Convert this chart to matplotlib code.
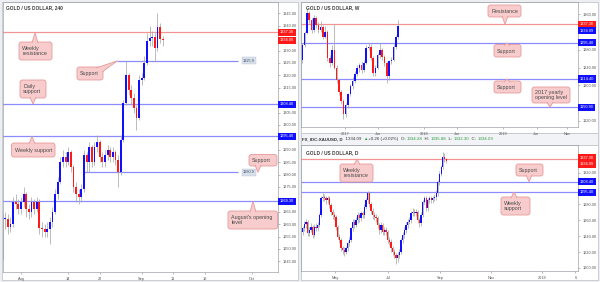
import numpy as np
import matplotlib
matplotlib.use("Agg")
import matplotlib.pyplot as plt
from matplotlib.patches import FancyBboxPatch, Polygon, Rectangle
from matplotlib.transforms import Affine2D, Bbox, blended_transform_factory

W, H = 600, 282
plt.rcParams['font.family'] = ['Liberation Sans', 'DejaVu Sans']

BLUE = '#1010ff'
RED = '#ff1a1a'
WICK = '#a9a9a9'
LINE_BLUE = '#8c8cff'
LINE_RED = '#f39494'
PINK = '#f8cccc'
PINK_EDGE = '#e59a9a'
GREEN = '#2e9e3e'

# ---------------- 4H chart (x = trading days from 1 Aug) ----------------
h4_first_open = 1248
h4_close = [1262, 1262, 1259, 1260, 1269, 1268, 1266, 1269, 1272, 1266,
            1265, 1269, 1266, 1269, 1258.5, 1258, 1257, 1258, 1261, 1265,
            1272, 1277, 1285, 1287, 1285, 1289, 1283, 1275, 1272, 1271,
            1274, 1288, 1285, 1291, 1285, 1291, 1293, 1287, 1285, 1288,
            1290, 1287, 1289, 1286, 1281, 1294, 1309, 1320, 1314, 1311,
            1307, 1303, 1318, 1319, 1325, 1334, 1335, 1335.5, 1331, 1339.5,
            1334.5, 1334.1]
h4_high = [1264, 1265, 1264, 1263, 1271, 1272, 1270, 1271, 1275, 1273,
           1268, 1271, 1270, 1271, 1270, 1261, 1260, 1261, 1263, 1267,
           1274, 1279, 1287, 1290, 1289, 1291, 1290, 1284, 1277, 1274,
           1276, 1290, 1289, 1293, 1292, 1293, 1296, 1294, 1289, 1290,
           1292, 1291, 1291, 1290, 1288, 1296, 1310, 1326, 1321, 1316,
           1313, 1308, 1320, 1321, 1328, 1337, 1340, 1338, 1337, 1345,
           1341, 1336]
h4_low = [1246, 1258, 1256, 1257, 1259, 1266, 1264, 1264, 1267, 1263,
          1262, 1263, 1264, 1265, 1256, 1255, 1255, 1255, 1252, 1259,
          1264, 1270, 1276, 1283, 1283, 1284, 1281, 1273, 1269, 1268,
          1269, 1273, 1281, 1281, 1283, 1284, 1289, 1285, 1283, 1283,
          1286, 1285, 1285, 1284, 1275, 1280, 1293, 1308, 1312, 1308,
          1305, 1298, 1302, 1316, 1318, 1324, 1332, 1332, 1326, 1330,
          1333, 1332]
h4_tick_pos = [0, 9, 15, 23, 29, 35, 44]
h4_tick_lab = ["Aug", "14", "22", "Sep", "11", "19", "Oct"]
h4_yticks = list(range(1245, 1350, 5))
h4_levels = [1337.30, 1308.40, 1295.40, 1269.30]
h4_level_cols = [RED, BLUE, BLUE, BLUE]
h4_short_levels = [1325.9, 1280.9]
h4_short_start = [18.3, 12.0]
h4_short_end = 41.3

# ---------------- Weekly chart (x = weeks from Jan 2017) ----------------
w_first_open = 1257
w_close = [1290, 1318, 1362, 1347, 1324, 1351, 1336, 1324, 1331, 1309,
           1320, 1262, 1250, 1280, 1240, 1212, 1185, 1165, 1135, 1155,
           1180, 1198, 1210, 1225, 1238, 1246, 1235, 1250, 1285, 1287,
           1262, 1228, 1240, 1268, 1280, 1264, 1250, 1220, 1254, 1258,
           1287, 1309, 1334.09]
w_high = [1296, 1322, 1375, 1368, 1352, 1358, 1356, 1342, 1345, 1335,
          1334, 1325, 1268, 1290, 1337, 1245, 1215, 1190, 1170, 1160,
          1184, 1204, 1218, 1232, 1245, 1250, 1254, 1256, 1290, 1296,
          1292, 1266, 1245, 1272, 1296, 1284, 1268, 1254, 1258, 1264,
          1292, 1314, 1346]
w_low = [1250, 1286, 1315, 1340, 1318, 1320, 1330, 1318, 1320, 1305,
         1306, 1255, 1242, 1245, 1236, 1205, 1178, 1158, 1124, 1128,
         1150, 1176, 1192, 1205, 1220, 1230, 1228, 1230, 1248, 1280,
         1256, 1222, 1222, 1236, 1262, 1258, 1244, 1205, 1212, 1248,
         1254, 1282, 1305]
w_tick_pos = [0, 22, 52, 74, 104, 126, 146]
w_tick_lab = ["2017", "Jun", "2018", "Jun", "2019", "Jun", "Nov"]
w_yticks = [1120, 1160, 1200, 1240, 1280, 1320, 1360]
w_levels = [1337.30, 1295.40, 1214.40, 1150.90]
w_level_cols = [RED, BLUE, BLUE, BLUE]

# ---------------- Daily chart (x = trading days from 1 May) ----------------
d_first_open = 1245
d_close = [1250, 1255, 1258, 1243.5, 1248, 1251.8, 1241.4, 1251.8, 1250, 1254,
           1266.5, 1287.5, 1289.6, 1288, 1285.4, 1287.5, 1279, 1270.7, 1266.5, 1264.4,
           1251.8, 1239.2, 1235, 1224.6, 1222.5, 1220.4, 1224.6, 1231, 1235, 1249.8,
           1258, 1254, 1260, 1266.5, 1262.4, 1268.7, 1266.5, 1277, 1285.4, 1293.8,
           1280, 1272, 1266, 1264, 1262.4, 1254, 1247.7, 1254, 1245.6, 1247.7,
           1245.6, 1235, 1233, 1224.6, 1220.4, 1216.2, 1212, 1216.2, 1220.4, 1235,
           1241.4, 1247.7, 1254, 1258, 1260, 1268.7, 1270.7, 1268.7, 1270.7, 1260,
           1256, 1266.5, 1283.3, 1287.5, 1275, 1285.4, 1287.5, 1285.4, 1287.5, 1289.6,
           1293.8, 1308.4, 1318, 1327, 1339.9, 1337.3, 1334.09]
d_high = [1253, 1259, 1262, 1260, 1252, 1256, 1254, 1255, 1256, 1258,
          1269, 1290, 1294, 1293, 1291, 1291, 1290, 1282, 1274, 1270,
          1266, 1254, 1243, 1238, 1228, 1226, 1228, 1234, 1239, 1252,
          1262, 1261, 1264, 1270, 1269, 1272, 1272, 1280, 1288, 1297,
          1296, 1283, 1275, 1270, 1268, 1265, 1257, 1258, 1257, 1252,
          1251, 1248, 1239, 1236, 1228, 1224, 1219, 1220, 1224, 1238,
          1245, 1251, 1258, 1262, 1264, 1272, 1275, 1274, 1274, 1273,
          1263, 1270, 1286, 1291, 1290, 1288, 1291, 1290, 1291, 1293,
          1298, 1311, 1322, 1330, 1346, 1344, 1338]
d_low = [1242, 1247, 1250, 1240, 1240, 1245, 1238, 1239, 1246, 1247,
         1251, 1264, 1284, 1284, 1281, 1282, 1275, 1267, 1262, 1260,
         1248, 1236, 1231, 1221, 1218, 1215, 1217, 1221, 1228, 1232,
         1246, 1250, 1251, 1257, 1258, 1259, 1263, 1263, 1274, 1282,
         1277, 1268, 1262, 1260, 1258, 1250, 1243, 1244, 1241, 1242,
         1241, 1231, 1229, 1220, 1216, 1212, 1205, 1208, 1212, 1217,
         1231, 1238, 1244, 1250, 1255, 1257, 1265, 1265, 1265, 1256,
         1252, 1253, 1264, 1280, 1271, 1272, 1282, 1282, 1282, 1284,
         1286, 1290, 1304, 1315, 1325, 1333, 1332]
d_tick_pos = [0, 45, 89, 132, 175, 203]
d_tick_lab = ["May", "Jul", "Sep", "Nov", "2018", "6"]
d_yticks = list(range(1200, 1360, 20))
d_levels = [1337.30, 1308.40, 1295.40]
d_level_cols = [RED, BLUE, BLUE]

last_price = 1334.09

fig = plt.figure(figsize=(6, 2.82), dpi=100, facecolor='#eceef1')
px = Affine2D().scale(1, -1).translate(0, H)  # top-left pixel coords -> display


def panel(x0, y0, x1, y1, fc='white'):
    fig.add_artist(Rectangle((x0, y0), x1 - x0, y1 - y0, transform=px, fc=fc,
                             ec='#c3c7cc', lw=0.6, zorder=-5))


def add_axes_px(x0, y0, x1, y1):
    ax = fig.add_axes([x0 / W, 1 - y1 / H, (x1 - x0) / W, (y1 - y0) / H])
    ax.set_facecolor('none')
    return ax


def draw_candles(ax, x, first_open, close, high, low, width):
    close = np.asarray(close, float)
    opn = np.concatenate([[first_open], close[:-1]])
    ax.vlines(x, low, high, color=WICK, lw=0.55, zorder=2)
    y0, y1 = ax.get_ylim()
    hpx = ax.get_position().height * H
    minh = (y1 - y0) / hpx * 0.8
    cols = np.where(close >= opn, BLUE, RED)
    ax.bar(x, np.maximum(np.abs(close - opn), minh), width,
           bottom=np.minimum(opn, close), color=cols, lw=0, zorder=3)


def style(ax, xlim, ylim, yticks, xticks, xlabels, label_levels):
    ax.set_xlim(xlim)
    ax.set_ylim(ylim)
    # TradingView hides scale values that sit under a price label
    ppx = (ylim[1] - ylim[0]) / (ax.get_position().height * H)
    shown = [v for v in yticks if all(abs(v - lv) / ppx > 5.5 for lv in label_levels)]
    ax.yaxis.tick_right()
    ax.set_yticks(shown)
    ax.set_yticklabels([f"{v:.2f}" for v in shown])
    ax.set_xticks(xticks)
    ax.set_xticklabels(xlabels)
    ax.tick_params(axis='both', length=1.5, width=0.4, colors='#8a8a8a',
                   labelcolor='#555555', labelsize=2.8, pad=1.8)
    for s in ax.spines.values():
        s.set_color('#9ea3a8')
        s.set_linewidth(0.5)


def price_label(ax, level, color, dy=0):
    tr = blended_transform_factory(ax.transAxes, ax.transData)
    ax.annotate(f"{level:.2f}", xy=(1, level), xycoords=tr,
                xytext=(2.0, -dy), textcoords='offset pixels',
                ha='left', va='center', fontsize=2.8, color='white',
                bbox=dict(boxstyle='square,pad=0.4', fc=color, ec='none'),
                annotation_clip=False, zorder=20)


def callout(ax, text, box, level, tip_x, base):
    x0, y0, x1, y1 = box
    tip_y = H - ax.transData.transform((ax.get_xlim()[0], level))[1]
    fig.add_artist(FancyBboxPatch((x0, y0), x1 - x0, y1 - y0,
                                  boxstyle='round,pad=0,rounding_size=2.5',
                                  transform=px, fc=PINK, ec=PINK_EDGE, lw=0.6, zorder=10))
    tri = [base[0], (tip_x, tip_y), base[1]]
    fig.add_artist(Polygon(tri, closed=False, transform=px, fc=PINK, ec=PINK_EDGE,
                           lw=0.6, zorder=11))
    fig.text(x0 + 3.2, (y0 + y1) / 2 + 0.3, text, transform=px, ha='left', va='center',
             fontsize=3.9, color='#4a4a4a', linespacing=1.05, zorder=12)


# panels
panel(2, 2, 298, 280)
panel(301, 2, 598, 133)
panel(301, 133, 598, 145, fc='#f1f3f6')
panel(301, 145, 598, 280)

# ---------------- 4H ----------------
ax1 = add_axes_px(2.5, 2, 278, 272)
style(ax1, (-3.52, 48.95), (1240.7, 1349.6), h4_yticks, h4_tick_pos, h4_tick_lab,
      h4_levels + [last_price])
for lev, col in zip(h4_levels, h4_level_cols):
    ax1.axhline(lev, color=LINE_RED if col == RED else LINE_BLUE, lw=0.9, zorder=1)
    price_label(ax1, lev, col)
for lev, x0 in zip(h4_short_levels, h4_short_start):
    ax1.hlines(lev, x0, h4_short_end, color=LINE_BLUE, lw=0.9, zorder=1)
    ax1.text(h4_short_end + 1.0, lev, f"{lev:.1f}", ha='left', va='center', fontsize=2.8,
             color='#3d4f66', zorder=6,
             bbox=dict(boxstyle='square,pad=0.35', fc='#d8e1ea', ec='#b9c4cf', lw=0.3))
price_label(ax1, last_price, RED)
draw_candles(ax1, -3.5 + 0.5 * np.arange(len(h4_close)), h4_first_open,
             h4_close, h4_high, h4_low, 0.34)
fig.text(6, 8, "GOLD / US DOLLAR, 240", transform=px, fontsize=3.4, color='#3a3a3a',
         fontweight='bold', va='center')

# ---------------- Weekly ----------------
ax2 = add_axes_px(301.5, 2, 578, 127)
style(ax2, (-28.6, 153.3), (1106.5, 1387.4), w_yticks, w_tick_pos, w_tick_lab,
      w_levels + [last_price - 12])
for lev, col in zip(w_levels, w_level_cols):
    ax2.axhline(lev, color=LINE_RED if col == RED else LINE_BLUE, lw=0.9, zorder=1)
    price_label(ax2, lev, col)
price_label(ax2, last_price, BLUE, dy=5)
draw_candles(ax2, -28 + 1.5 * np.arange(len(w_close)), w_first_open,
             w_close, w_high, w_low, 1.0)
fig.text(306, 8, "GOLD / US DOLLAR, W", transform=px, fontsize=3.4, color='#3a3a3a',
         fontweight='bold', va='center')

# ---------------- Daily ----------------
ax3 = add_axes_px(301.5, 145, 578, 271)
style(ax3, (-28.3, 205.2), (1196.1, 1354.6), d_yticks, d_tick_pos, d_tick_lab,
      d_levels + [last_price])
for lev, col in zip(d_levels, d_level_cols):
    ax3.axhline(lev, color=LINE_RED if col == RED else LINE_BLUE, lw=0.9, zorder=1)
    price_label(ax3, lev, col, dy=-1 if col == RED else 0)
price_label(ax3, last_price, RED, dy=3)
draw_candles(ax3, -27.3 + 1.408 * np.arange(len(d_close)), d_first_open,
             d_close, d_high, d_low, 0.95)
fig.text(306, 152.5, "GOLD / US DOLLAR, D", transform=px, fontsize=3.4, color='#3a3a3a',
         fontweight='bold', va='center')

# ---------------- info bar ----------------
renderer = fig.canvas.get_renderer()
pieces = [("FX_IDC:XAUUSD, D", '#333333', 'bold'), ("  1334.09 ", '#333333', 'normal'),
          ("\u25B2", GREEN, 'normal'), (" +0.26 (+0.02%)  ", '#333333', 'normal'),
          ("O: ", '#333333', 'normal'), ("1334.28", GREEN, 'normal'),
          ("  H: ", '#333333', 'normal'), ("1335.88", GREEN, 'normal'),
          ("  L: ", '#333333', 'normal'), ("1332.30", GREEN, 'normal'),
          ("  C: ", '#333333', 'normal'), ("1334.09", GREEN, 'normal')]
xc = 302.5
for s, col, fw in pieces:
    tt = fig.text(xc, 139.2, s, transform=px, fontsize=3.15, color=col, fontweight=fw,
                  va='center', ha='left')
    xc = tt.get_window_extent(renderer).x1

# ---------------- callouts ----------------
callout(ax1, "Weekly\nresistance", (19, 42, 52, 60), 1337.30, 35, [(32, 43), (38, 43)])
callout(ax1, "Support", (77, 67, 103, 80), 1325.9, 117.5, [(96, 68), (102, 72)])
callout(ax1, "Daily\nsupport", (20, 80, 46, 98), 1308.40, 33, [(30, 97), (36, 97)])
callout(ax1, "Weekly support", (11.5, 143, 55, 157), 1295.40, 32, [(29, 144), (35, 144)])
callout(ax1, "Support", (249, 154.5, 277, 166), 1280.9, 258, [(255, 165), (261, 165)])
callout(ax1, "August's opening\nlevel", (228, 211, 277.5, 229), 1269.30, 253, [(250, 212), (256, 212)])

callout(ax2, "Resistance", (488, 5, 521, 17), 1337.30, 505, [(502, 16), (508, 16)])
callout(ax2, "Support", (494, 44.5, 521, 57), 1295.40, 507, [(504, 45.5), (510, 45.5)])
callout(ax2, "Support", (494, 81, 521, 93), 1214.40, 507, [(504, 82), (510, 82)])
callout(ax2, "2017 yearly\nopening level", (532, 87, 570, 103), 1150.90, 550, [(547, 102), (553, 102)])

callout(ax3, "Weekly\nresistance", (340, 164, 373, 182), 1337.30, 357, [(354, 165), (360, 165)])
callout(ax3, "Support", (516, 164, 543, 176), 1308.40, 529, [(526, 175), (532, 175)])
callout(ax3, "Weekly\nsupport", (501, 197, 530, 215), 1295.40, 514, [(511, 198), (517, 198)])

fig.savefig("out.png", dpi=100, facecolor=fig.get_facecolor())
